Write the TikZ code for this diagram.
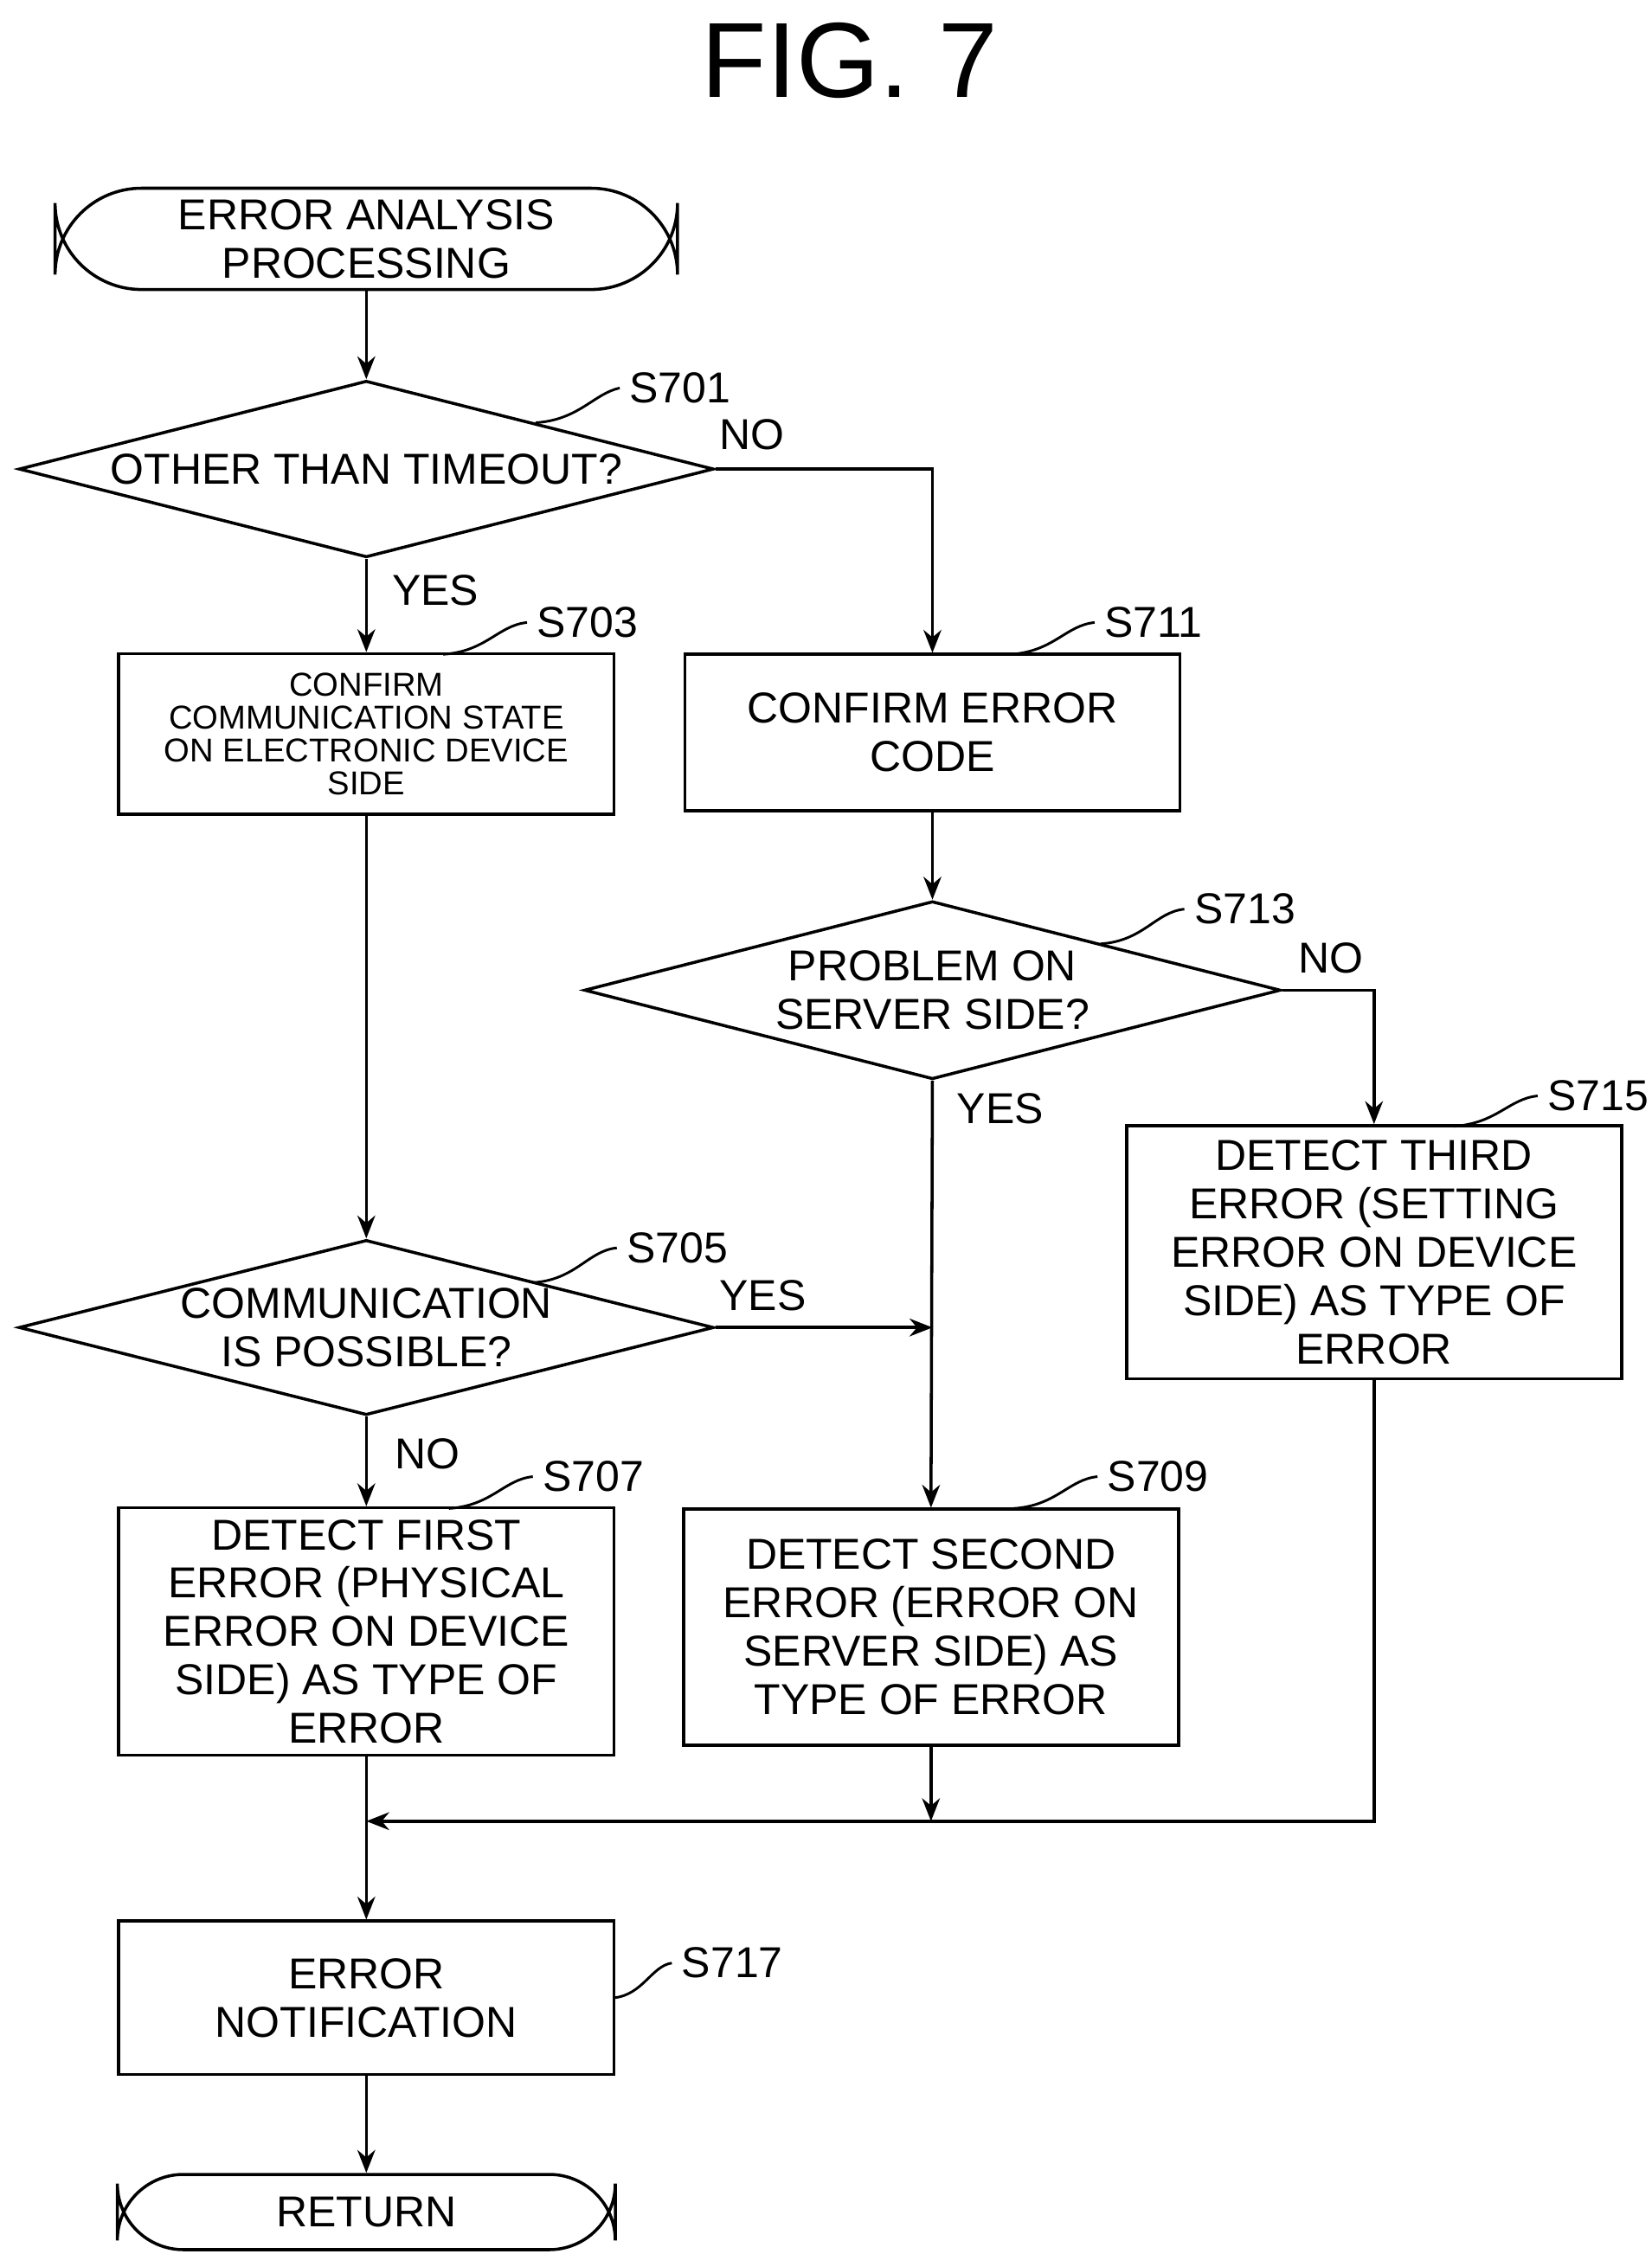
\documentclass[tikz,border=0pt]{standalone}
\usepackage{fontspec}
\setmainfont{Liberation Sans}
\usetikzlibrary{shapes.geometric,arrows.meta}
\begin{document}
\begin{tikzpicture}[x=0.02cm,y=-0.02cm,line width=1.2pt,
 box/.style={draw,align=center,inner sep=0pt,font=\fontsize{17}{19}\selectfont},
 dia/.style={draw,diamond,aspect=3.9,inner sep=0pt,align=center,font=\fontsize{17}{19}\selectfont},
 lab/.style={font=\fontsize{17}{19}\selectfont},
 arr/.style={-{Stealth[length=9pt,width=7pt]}},
 lead/.style={line width=1pt}]
\useasboundingbox (0,0) rectangle (1141,1557);
\node[font=\fontsize{42}{44}\selectfont] (title) at (587,42) {FIG. 7};
\node[box,rounded corners=35pt,minimum width=430\pgflinewidth,text width=0pt] at (-1000,-1000) {};
\node[box,rounded corners=34pt,minimum width=8.6cm,minimum height=1.4cm] (start) at (253,165) {ERROR ANALYSIS\\PROCESSING};
\node[dia,minimum width=9.6cm,minimum height=2.44cm] (d1) at (253,324) {OTHER THAN TIMEOUT?};
\node[box,minimum width=6.84cm,minimum height=2.22cm,font=\fontsize{13}{13}\selectfont] (s703) at (253,507) {CONFIRM\\COMMUNICATION STATE\\ON ELECTRONIC DEVICE\\SIDE};
\node[box,minimum width=6.84cm,minimum height=2.16cm] (s711) at (644,506) {CONFIRM ERROR\\CODE};
\node[dia,minimum width=9.62cm,minimum height=2.46cm] (d2) at (644,684) {PROBLEM ON\\SERVER SIDE?};
\node[box,minimum width=6.84cm,minimum height=3.5cm] (s715) at (949,865) {DETECT THIRD\\ERROR (SETTING\\ERROR ON DEVICE\\SIDE) AS TYPE OF\\ERROR};
\node[dia,minimum width=9.6cm,minimum height=2.42cm] (d3) at (253,917) {COMMUNICATION\\IS POSSIBLE?};
\node[box,minimum width=6.84cm,minimum height=3.42cm] (s707) at (253,1127) {DETECT FIRST\\ERROR (PHYSICAL\\ERROR ON DEVICE\\SIDE) AS TYPE OF\\ERROR};
\node[box,minimum width=6.84cm,minimum height=3.26cm] (s709) at (643,1124) {DETECT SECOND\\ERROR (ERROR ON\\SERVER SIDE) AS\\TYPE OF ERROR};
\node[box,minimum width=6.84cm,minimum height=2.12cm] (s717) at (253,1380) {ERROR\\NOTIFICATION};
\node[box,rounded corners=26pt,minimum width=6.88cm,minimum height=1.04cm] (ret) at (253,1528) {RETURN};
\coordinate (m) at (253,1258);
\coordinate (y5) at (644,917);
% connectors
\draw[arr] (start) -- (d1);
\draw[arr] (d1) -- (s703);
\draw[arr] (d1.east) -| (s711);
\draw[arr] (s711) -- (d2);
\draw[arr] (d2.east) -| (s715);
\draw[arr] (d2.south) -- (s709.north);
\draw[arr] (s703) -- (d3);
\draw[arr] (d3.east) -- (y5);
\draw[arr] (d3) -- (s707);
\draw[arr] (s709.south) -- (s709.south |- m);
\draw[arr] (s715.south) |- (m);
\draw (s707.south) -- (m);
\draw[arr] (m) -- (s717);
\draw[arr] (s717) -- (ret);
% yes/no
\node[lab,anchor=west] (n1) at (490,300) {NO};
\node[lab,anchor=west] (y1) at (264,408) {YES};
\node[lab,anchor=west] (n2) at (890,662) {NO};
\node[lab,anchor=west] (y2) at (654,766) {YES};
\node[lab,anchor=west] (y3) at (490,895) {YES};
\node[lab,anchor=west] (n3) at (266,1004) {NO};
% step labels
\node[lab,anchor=west] (l701) at (428,268) {S701};
\draw[lead] (370,292) .. controls (400,290) and (410,272) .. (l701.west);
\node[lab,anchor=west] (l703) at (364,430) {S703};
\draw[lead] (306,452) .. controls (336,450) and (344,432) .. (l703.west);
\node[lab,anchor=west] (l711) at (756,430) {S711};
\draw[lead] (698,452) .. controls (728,450) and (736,432) .. (l711.west);
\node[lab,anchor=west] (l713) at (818,628) {S713};
\draw[lead] (760,652) .. controls (790,650) and (798,630) .. (l713.west);
\node[lab,anchor=west] (l715) at (1062,757) {S715};
\draw[lead] (1004,778) .. controls (1034,776) and (1042,759) .. (l715.west);
\node[lab,anchor=west] (l705) at (426,862) {S705};
\draw[lead] (368,886) .. controls (398,884) and (406,864) .. (l705.west);
\node[lab,anchor=west] (l707) at (368,1020) {S707};
\draw[lead] (310,1042) .. controls (340,1040) and (348,1022) .. (l707.west);
\node[lab,anchor=west] (l709) at (758,1020) {S709};
\draw[lead] (700,1042) .. controls (730,1040) and (738,1022) .. (l709.west);
\node[lab,anchor=west] (l717) at (464,1356) {S717};
\draw[lead] (424,1380) .. controls (444,1378) and (450,1358) .. (l717.west);
\end{tikzpicture}
\end{document}
